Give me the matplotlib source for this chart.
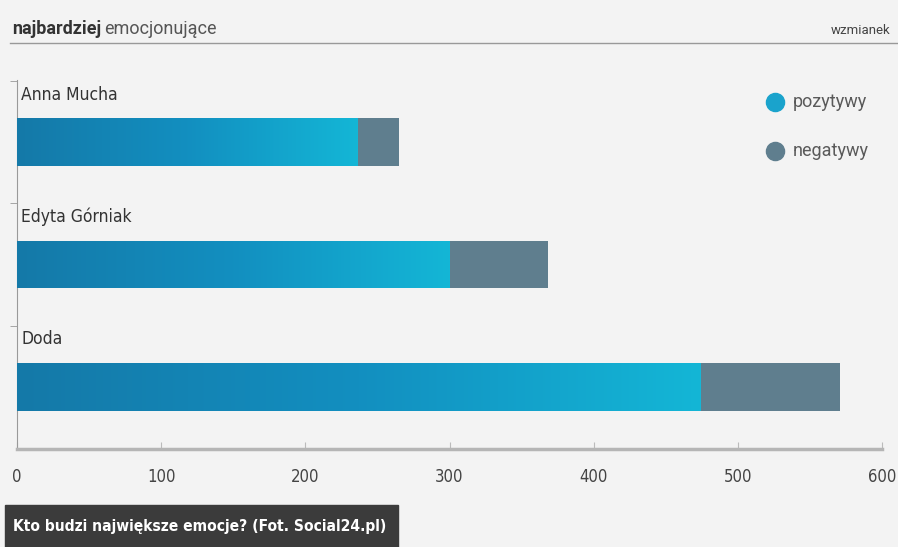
import numpy as np
import matplotlib.pyplot as plt
from matplotlib import font_manager
from matplotlib.colors import LinearSegmentedColormap

# Data (wzmianek = mentions)
names = ['Doda', 'Edyta Górniak', 'Anna Mucha']
positive = [474, 300, 236]
negative = [97, 68, 29]
xticks = [0, 100, 200, 300, 400, 500, 600]

bg = '#f3f3f3'
neg_color = '#5f7e8e'
pos_cmap = LinearSegmentedColormap.from_list('pos', ['#1579a8', '#128fc0', '#14b6d6'])

# look for a narrow font if there is one installed
narrow_font = None
for f in font_manager.fontManager.ttflist:
    if 'Narrow' in f.name or 'Condensed' in f.name or f.stretch in ('condensed', 'semi-condensed'):
        narrow_font = f
        break
if narrow_font is not None:
    nprops = dict(family=[narrow_font.name, 'DejaVu Sans'], stretch=narrow_font.stretch)
    nscale = 1.0
else:
    nprops = dict(family=['Open Sans', 'DejaVu Sans'])
    nscale = 0.85

fig = plt.figure(figsize=(8.98, 5.47), dpi=100, facecolor=bg)
ax = fig.add_axes([17 / 898, 98 / 547, 865 / 898, 369 / 547])
ax.set_facecolor(bg)

ypos = np.arange(len(names))
bh = 0.39
pos_bars = ax.barh(ypos, positive, height=bh, color='#1597c4', zorder=2)
ax.barh(ypos, negative, left=positive, height=bh, color=neg_color, zorder=2)

# gradient fill inside each positive bar
grad = np.linspace(0, 1, 256).reshape(1, -1)
for i, (bar, val) in enumerate(zip(pos_bars, positive)):
    y0 = bar.get_y()
    im = ax.imshow(grad, cmap=pos_cmap, aspect='auto', zorder=3,
                   extent=[0, val, y0, y0 + bh])
    im.set_clip_path(bar)
    ax.text(3, y0 + bh + 0.12, names[i], fontsize=12.5 * nscale, color='#333333',
            va='bottom', ha='left', **nprops)

ax.set_xlim(0, 600)
ax.set_ylim(-0.51, 2.51)
ax.set_xticks(xticks)
ax.set_xticklabels([str(t) for t in xticks], fontsize=12 * nscale, color='#444444', **nprops)
ax.set_yticks([])
ax.set_yticks([0.5, 1.5, 2.5], minor=True)
ax.tick_params(axis='y', which='minor', length=5, color='#999999', direction='out')
ax.tick_params(axis='x', length=5, color='#bbbbbb', direction='in', pad=14)

for s in ['top', 'right']:
    ax.spines[s].set_visible(False)
ax.spines['left'].set_color('#999999')
ax.spines['left'].set_linewidth(0.8)
ax.spines['bottom'].set_color('#b5b5b5')
ax.spines['bottom'].set_linewidth(2.5)

# legend
ax.scatter([775 / 898], [1 - 102 / 547], s=170, color='#1aa3cc', transform=fig.transFigure, clip_on=False)
ax.scatter([775 / 898], [1 - 151 / 547], s=170, color=neg_color, transform=fig.transFigure, clip_on=False)
fig.text(793 / 898, 1 - 102 / 547, 'pozytywy', fontsize=13, color='#5a5a5a', va='center',
         family='Roboto')
fig.text(793 / 898, 1 - 151 / 547, 'negatywy', fontsize=13, color='#5a5a5a', va='center',
         family='Roboto')

# header
t1 = fig.text(12 / 898, 1 - 29 / 547, 'najbardziej', fontsize=13, weight='bold', color='#333333',
              family='Roboto', va='center')
r = fig.canvas.get_renderer()
x_end = fig.transFigure.inverted().transform(t1.get_window_extent(r))[1, 0]
fig.text(x_end + 3 / 898, 1 - 29 / 547, 'emocjonujące', fontsize=13, color='#555555',
         family='Roboto', va='center')
fig.text(890 / 898, 1 - 30 / 547, 'wzmianek', fontsize=9.5, color='#444444',
         family='Roboto', ha='right', va='center')
fig.add_artist(plt.Line2D([10 / 898, 1], [1 - 43 / 547] * 2, color='#999999', lw=1,
                          transform=fig.transFigure))

# caption box
fig.patches.append(plt.Rectangle((5 / 898, 0), 393 / 898, 42 / 547, color='#3b3b3b',
                                 transform=fig.transFigure))
fig.text(13 / 898, 21 / 547, 'Kto budzi największe emocje? (Fot. Social24.pl)', fontsize=11.2 * nscale,
         weight='bold', color='white', va='center', **nprops)

fig.savefig('out.png', dpi=100, facecolor=bg)
